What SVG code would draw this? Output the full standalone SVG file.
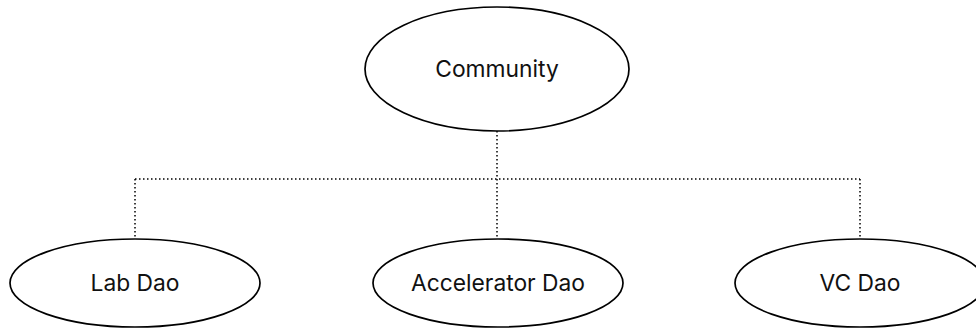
<svg xmlns="http://www.w3.org/2000/svg" width="976" height="329" viewBox="0 0 976 329">
  <style>
    .node ellipse { fill: #ffffff; stroke: #000000; stroke-width: 1.7; }
    .node text { font-family: Inter, "Liberation Sans", sans-serif; font-size: 22.8px; fill: #111111; text-anchor: middle; }
    .link { fill: none; stroke: #000000; stroke-width: 1.5; stroke-dasharray: 1.5 2.5; }
  </style>
  <rect width="976" height="329" fill="#ffffff"/>
  <g id="connectors">
    <path class="link" d="M497 131 V179"/>
    <path class="link" d="M135 179 H860"/>
    <path class="link" d="M135 179 V239"/>
    <path class="link" d="M497 179 V239"/>
    <path class="link" d="M860 179 V239"/>
  </g>
  <g id="community" class="node">
    <ellipse cx="497" cy="69" rx="132" ry="62"/>
    <text x="497" y="77">Community</text>
  </g>
  <g id="lab-dao" class="node">
    <ellipse cx="135" cy="283" rx="125" ry="44"/>
    <text x="135" y="291">Lab Dao</text>
  </g>
  <g id="accelerator-dao" class="node">
    <ellipse cx="498" cy="283" rx="125" ry="44"/>
    <text x="498" y="291">Accelerator Dao</text>
  </g>
  <g id="vc-dao" class="node">
    <ellipse cx="860" cy="283" rx="125" ry="44"/>
    <text x="860" y="291">VC Dao</text>
  </g>
</svg>
